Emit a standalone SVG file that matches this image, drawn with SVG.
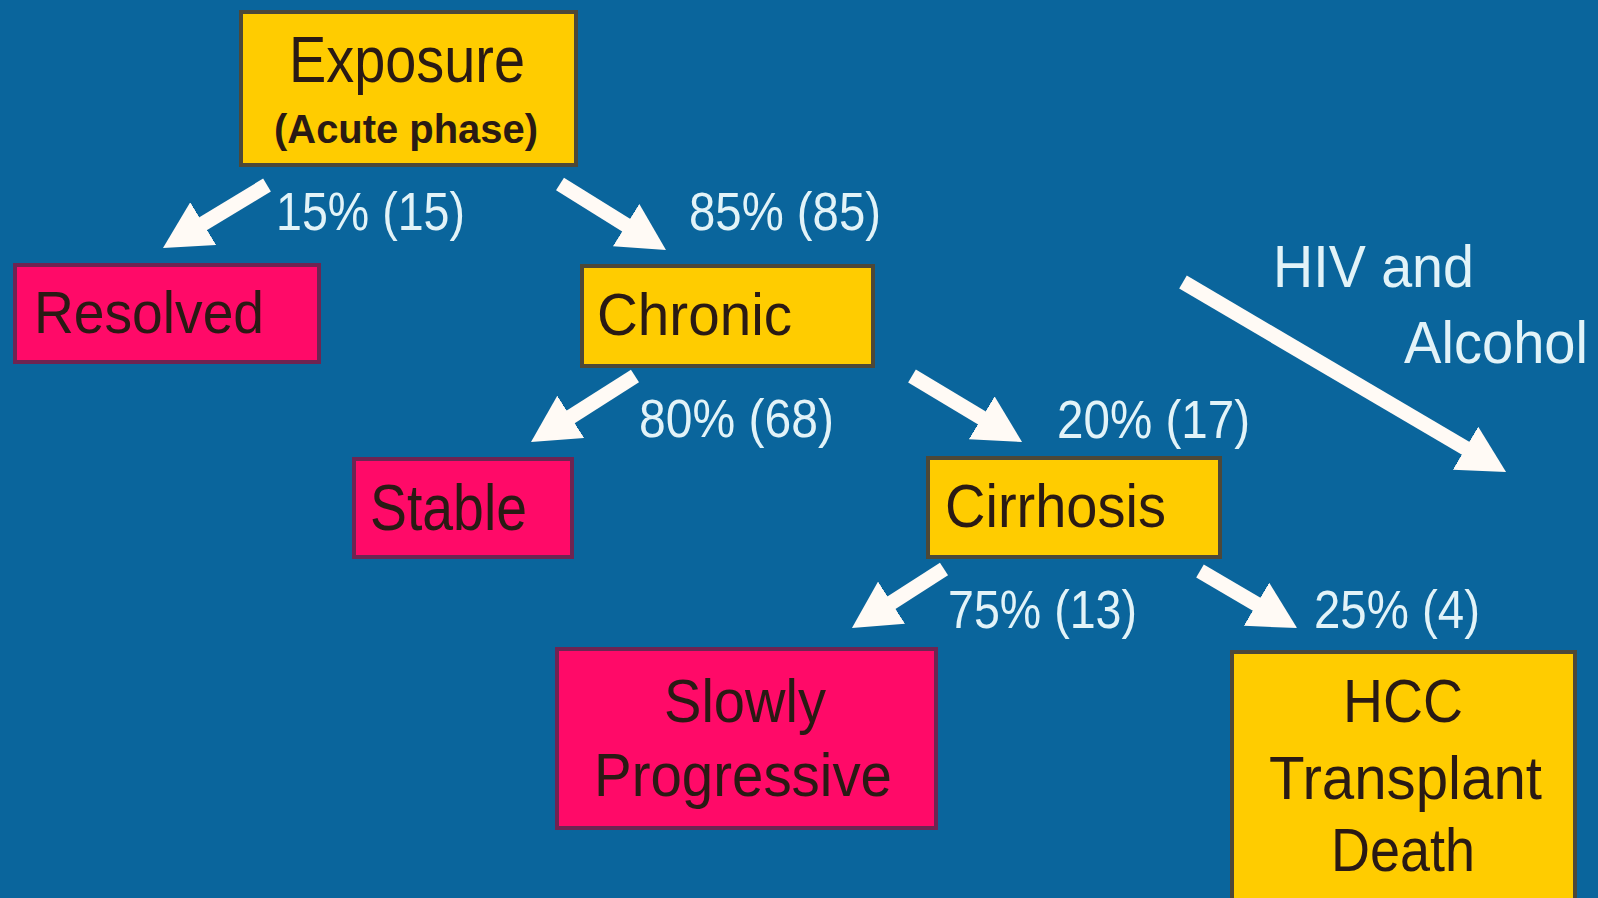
<svg xmlns="http://www.w3.org/2000/svg" width="1598" height="898" viewBox="0 0 1598 898">
<style>
.bg{fill:#0a659c}
.yel{fill:#ffcc00;stroke:#4d4838;stroke-width:4}
.pnk{fill:#ff0a68;stroke:#6e2452;stroke-width:4}
.nt{font-family:"Liberation Sans",Arial,sans-serif;fill:#2a1a14}
.lb{font-family:"Liberation Sans",Arial,sans-serif;fill:#e2f3f8;font-size:54px}
.ar{stroke:#fffaf5;stroke-width:15;fill:none;marker-end:url(#head)}
</style>
<defs>
<marker id="head" markerUnits="userSpaceOnUse" markerWidth="48" markerHeight="50" refX="27" refY="25" orient="auto" viewBox="0 0 48 50">
<path d="M0,0 L47,25 L0,50 z" fill="#fffaf5"/>
</marker>
</defs>
<rect class="bg" x="0" y="0" width="1598" height="898"/>

<g id="connectors">
<line class="ar" x1="267" y1="185" x2="180.1" y2="237.6"/>
<line class="ar" x1="560" y1="184" x2="649" y2="239.4"/>
<line class="ar" x1="635" y1="376" x2="547.9" y2="431.3"/>
<line class="ar" x1="912" y1="376" x2="1004.9" y2="431.7"/>
<line class="ar" x1="944" y1="569" x2="868.8" y2="617.2"/>
<line class="ar" x1="1200" y1="571" x2="1279.8" y2="617.9"/>
<line class="ar" x1="1183" y1="282" x2="1488.8" y2="461.9"/>
</g>

<g id="edge-labels">
<text class="lb" x="276" y="230" textLength="189" lengthAdjust="spacingAndGlyphs">15% (15)</text>
<text class="lb" x="689" y="230" textLength="192" lengthAdjust="spacingAndGlyphs">85% (85)</text>
<text class="lb" x="639" y="437" textLength="195" lengthAdjust="spacingAndGlyphs">80% (68)</text>
<text class="lb" x="1057" y="438" textLength="193" lengthAdjust="spacingAndGlyphs">20% (17)</text>
<text class="lb" x="948" y="628" textLength="189" lengthAdjust="spacingAndGlyphs">75% (13)</text>
<text class="lb" x="1314" y="628" textLength="166" lengthAdjust="spacingAndGlyphs">25% (4)</text>
<text class="lb" x="1273" y="287" textLength="201" lengthAdjust="spacingAndGlyphs" style="font-size:60px">HIV and</text>
<text class="lb" x="1404" y="363" textLength="184" lengthAdjust="spacingAndGlyphs" style="font-size:60px">Alcohol</text>
</g>

<g id="node-exposure">
<rect class="yel" x="241" y="12" width="335" height="153"/>
<text class="nt" x="289" y="82" font-size="64" textLength="236" lengthAdjust="spacingAndGlyphs">Exposure</text>
<text class="nt" x="274" y="143" font-size="40" font-weight="bold" textLength="264" lengthAdjust="spacingAndGlyphs">(Acute phase)</text>
</g>
<g id="node-resolved">
<rect class="pnk" x="15" y="265" width="304" height="97"/>
<text class="nt" x="34" y="333" font-size="60" textLength="230" lengthAdjust="spacingAndGlyphs">Resolved</text>
</g>
<g id="node-chronic">
<rect class="yel" x="582" y="266" width="291" height="100"/>
<text class="nt" x="597" y="335" font-size="60" textLength="195" lengthAdjust="spacingAndGlyphs">Chronic</text>
</g>
<g id="node-stable">
<rect class="pnk" x="354" y="459" width="218" height="98"/>
<text class="nt" x="370" y="530" font-size="64" textLength="157" lengthAdjust="spacingAndGlyphs">Stable</text>
</g>
<g id="node-cirrhosis">
<rect class="yel" x="928" y="458" width="292" height="99"/>
<text class="nt" x="945" y="527" font-size="62" textLength="221" lengthAdjust="spacingAndGlyphs">Cirrhosis</text>
</g>
<g id="node-slowly">
<rect class="pnk" x="557" y="649" width="379" height="179"/>
<text class="nt" x="664" y="722" font-size="62" textLength="162" lengthAdjust="spacingAndGlyphs">Slowly</text>
<text class="nt" x="594" y="796" font-size="62" textLength="298" lengthAdjust="spacingAndGlyphs">Progressive</text>
</g>
<g id="node-hcc">
<rect class="yel" x="1232" y="652" width="343" height="260"/>
<text class="nt" x="1343" y="722" font-size="62" textLength="120" lengthAdjust="spacingAndGlyphs">HCC</text>
<text class="nt" x="1269" y="799" font-size="62" textLength="273" lengthAdjust="spacingAndGlyphs">Transplant</text>
<text class="nt" x="1331" y="871" font-size="62" textLength="144" lengthAdjust="spacingAndGlyphs">Death</text>
</g>
</svg>
